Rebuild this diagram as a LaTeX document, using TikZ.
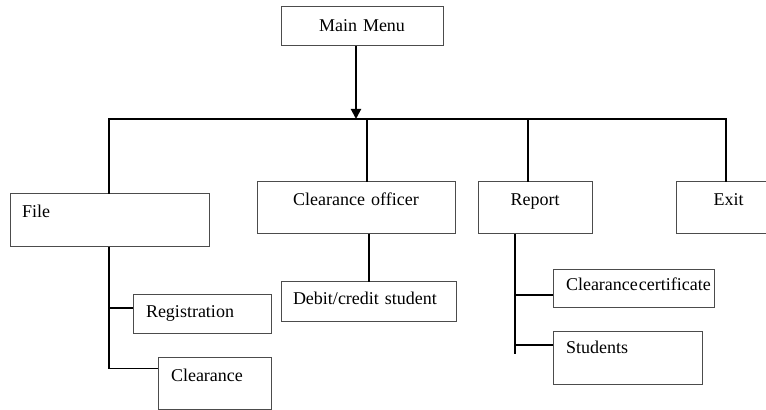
\documentclass[tikz,border=0pt]{standalone}
\usepackage{fontspec}
\setmainfont{Liberation Serif}
\usetikzlibrary{arrows.meta,positioning}

\begin{document}
\begin{tikzpicture}[x=0.5pt,y=-0.5pt,
  menu/.style={draw=black!70,line width=0.5pt,anchor=north west,inner ysep=0pt,outer sep=0pt,font=\fontsize{9}{11}\selectfont},
  cbox/.style={menu,align=center,inner xsep=0pt},
  lbox/.style={menu,align=left,inner xsep=6.5pt},
  conn/.style={line width=1pt,black}]
  \useasboundingbox (0,0) rectangle (766,410);
  % boxes (top left corners in pixels of the 766x410 sheet)
  \node[cbox,text width=81pt,text height=12.5pt,text depth=7pt] (mainmenu) at (281,7) {Main Menu};
  \node[lbox,text width=87.5pt,inner xsep=6pt,text height=12pt,text depth=14.5pt] (file) at (10,194) {File};
  \node[cbox,text width=99pt,text height=12pt,text depth=14pt] (officer) at (257,182) {Clearance officer};
  \node[cbox,text width=57pt,text height=12pt,text depth=14pt] (report) at (478,182) {Report};
  \node[cbox,text width=52.5pt,text height=12pt,text depth=14pt] (exit) at (676,182) {Exit};
  \node[lbox,text width=56pt,text height=11.5pt,text depth=8pt] (reg) at (133,295) {Registration};
  \node[lbox,text width=43.5pt,text height=12pt,text depth=14pt] (clr) at (158,358) {Clearance};
  \node[lbox,text width=75.5pt,inner xsep=6pt,text height=11.5pt,text depth=8.5pt] (debit) at (281,282) {Debit/credit student};
  \node[lbox,text width=67.5pt,text height=10.5pt,text depth=8.5pt] (cert) at (553,270) {\mbox{Clearance\hspace{0.5pt}certificate}};
  \node[lbox,text width=61.5pt,text height=11pt,text depth=15.5pt] (students) at (553,332) {Students};
  % bar under the main menu
  \coordinate (tip) at (356,119);
  \coordinate (barL) at (109,119);
  \coordinate (barR) at (726,119);
  \coordinate (tapO) at (367,119);
  \coordinate (tapR) at (528,119);
  \draw[conn,-{Triangle[width=5pt,length=5pt]}] (mainmenu.south -| tip) -- (tip);
  \draw[conn] (file.north -| barL) -- (barL) -- (barR) -- (exit.north -| barR);
  \draw[conn] (tapO) -- (officer.north -| tapO);
  \draw[conn] (tapR) -- (report.north -| tapR);
  % File branch
  \coordinate (fileJa) at (109,308);
  \coordinate (fileJb) at (109,369);
  \draw[conn] (file.south -| fileJb) -- (fileJb);
  \draw[conn] (fileJa) -- (reg.west |- fileJa);
  \draw[line width=0.5pt] (fileJb) -- (clr.west |- fileJb);
  % Clearance officer branch
  \draw[conn] (debit.north |- officer.south) -- (debit.north);
  % Report branch
  \coordinate (repJa) at (515,295);
  \coordinate (repJb) at (515,345);
  \coordinate (repEnd) at (515,354);
  \draw[conn] (report.south -| repEnd) -- (repEnd);
  \draw[conn] (repJa) -- (cert.west |- repJa);
  \draw[conn] (repJb) -- (students.west |- repJb);
\end{tikzpicture}
\end{document}
